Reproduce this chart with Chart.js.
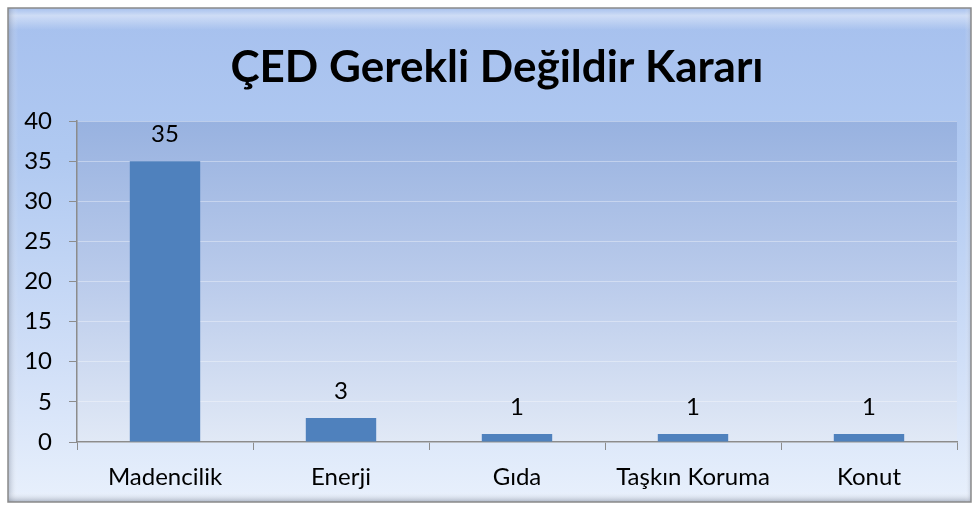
<!DOCTYPE html>
<html>
<head>
<meta charset="utf-8">
<script src="https://cdn.jsdelivr.net/npm/chart.js@4.4.1/dist/chart.umd.min.js"></script>
<style>
html,body{margin:0;padding:0;background:#fff;}
#wrap{width:974px;height:507px;position:relative;}
</style>
</head>
<body>
<div id="wrap"><canvas id="c" width="974" height="507"></canvas></div>
<script>
const categories = ["Madencilik", "Enerji", "Gıda", "Taşkın Koruma", "Konut"];
const values = [35, 3, 1, 1, 1];
const yTicks = [0, 5, 10, 15, 20, 25, 30, 35, 40];
const titleText = "ÇED Gerekli Değildir Kararı";

const FONT = 'Lato, "Open Sans", sans-serif';

const bgPlugin = {
  id: 'bgPlugin',
  beforeDraw(chart) {
    const ctx = chart.ctx;
    const W = chart.width, H = chart.height;
    ctx.save();
    ctx.fillStyle = '#ffffff';
    ctx.fillRect(0, 0, W, H);
    const x0 = 8, y0 = 8, x1 = 971, y1 = 502;
    let g = ctx.createLinearGradient(0, y0, 0, y1);
    g.addColorStop(0, '#a6c0ee');
    g.addColorStop(0.3, '#b0c9f1');
    g.addColorStop(0.7, '#cfdef7');
    g.addColorStop(1, '#e8f0fc');
    ctx.fillStyle = g;
    ctx.fillRect(x0, y0, x1 - x0, y1 - y0);
    let hg = ctx.createLinearGradient(0, y0, 0, y0 + 22);
    hg.addColorStop(0, 'rgba(255,255,255,0.0)');
    hg.addColorStop(0.35, 'rgba(255,255,255,0.45)');
    hg.addColorStop(1, 'rgba(255,255,255,0)');
    ctx.fillStyle = hg;
    ctx.fillRect(x0, y0, x1 - x0, 22);
    let lg = ctx.createLinearGradient(x0, 0, x0 + 10, 0);
    lg.addColorStop(0, 'rgba(120,130,150,0.45)');
    lg.addColorStop(1, 'rgba(255,255,255,0)');
    ctx.fillStyle = lg;
    ctx.fillRect(x0, y0, 10, y1 - y0);
    let bg = ctx.createLinearGradient(0, y1 - 10, 0, y1);
    bg.addColorStop(0, 'rgba(255,255,255,0)');
    bg.addColorStop(1, 'rgba(110,120,140,0.5)');
    ctx.fillStyle = bg;
    ctx.fillRect(x0, y1 - 10, x1 - x0, 10);
    let rg = ctx.createLinearGradient(x1 - 6, 0, x1, 0);
    rg.addColorStop(0, 'rgba(255,255,255,0)');
    rg.addColorStop(1, 'rgba(150,160,180,0.4)');
    ctx.fillStyle = rg;
    ctx.fillRect(x1 - 6, y0, 6, y1 - y0);
    ctx.strokeStyle = '#8a8a8a';
    ctx.lineWidth = 1.5;
    ctx.strokeRect(x0, y0, x1 - x0, y1 - y0);
    const a = chart.chartArea;
    let pg = ctx.createLinearGradient(0, a.top, 0, a.bottom);
    pg.addColorStop(0, '#98b2e0');
    pg.addColorStop(0.5, '#bacbeb');
    pg.addColorStop(1, '#e1e9f6');
    ctx.fillStyle = pg;
    ctx.fillRect(a.left, a.top, a.right - a.left, a.bottom - a.top);
    // title
    ctx.fillStyle = '#000';
    ctx.font = 'bold 44px ' + FONT;
    ctx.textAlign = 'center';
    ctx.textBaseline = 'alphabetic';
    ctx.fillText(titleText, 497, 82);
    ctx.restore();
  }
};

const labelPlugin = {
  id: 'labelPlugin',
  afterDatasetsDraw(chart) {
    const ctx = chart.ctx;
    const meta = chart.getDatasetMeta(0);
    ctx.save();
    ctx.fillStyle = '#000';
    ctx.font = '24px ' + FONT;
    ctx.textAlign = 'center';
    ctx.textBaseline = 'middle';
    meta.data.forEach((el, i) => {
      ctx.fillText(String(values[i]), el.x, el.y - 27);
    });
    ctx.restore();
  }
};

new Chart(document.getElementById('c'), {
  type: 'bar',
  data: {
    labels: categories,
    datasets: [{
      data: values,
      backgroundColor: '#4f81bd',
      borderWidth: 0,
      barPercentage: 0.4,
      categoryPercentage: 1.0
    }]
  },
  options: {
    responsive: false,
    animation: false,
    events: [],
    layout: { padding: { left: 0, right: 17, top: 121, bottom: 5 } },
    plugins: {
      legend: { display: false },
      tooltip: { enabled: false },
      title: { display: false }
    },
    scales: {
      x: {
        offset: true,
        grid: {
          offset: true,
          drawOnChartArea: false,
          drawTicks: true,
          tickLength: 8,
          tickColor: '#8c8c8c',
          color: '#8c8c8c'
        },
        border: { display: true, color: '#8c8c8c', width: 1.5 },
        ticks: {
          color: '#000',
          font: { family: FONT, size: 24 },
          padding: 13
        },
        afterFit(scale) { scale.height = 60; }
      },
      y: {
        min: 0,
        max: 40,
        afterBuildTicks(scale) { scale.ticks = yTicks.map(v => ({ value: v })); },
        grid: {
          drawOnChartArea: true,
          drawTicks: true,
          tickLength: 8,
          color: 'rgba(255,255,255,0.35)',
          tickColor: '#8c8c8c'
        },
        border: { display: true, color: '#8c8c8c', width: 1.5 },
        ticks: {
          color: '#000',
          font: { family: FONT, size: 24 },
          padding: 17
        },
        afterFit(scale) { scale.width = 77; }
      }
    }
  },
  plugins: [bgPlugin, labelPlugin]
});
</script>
</body>
</html>
